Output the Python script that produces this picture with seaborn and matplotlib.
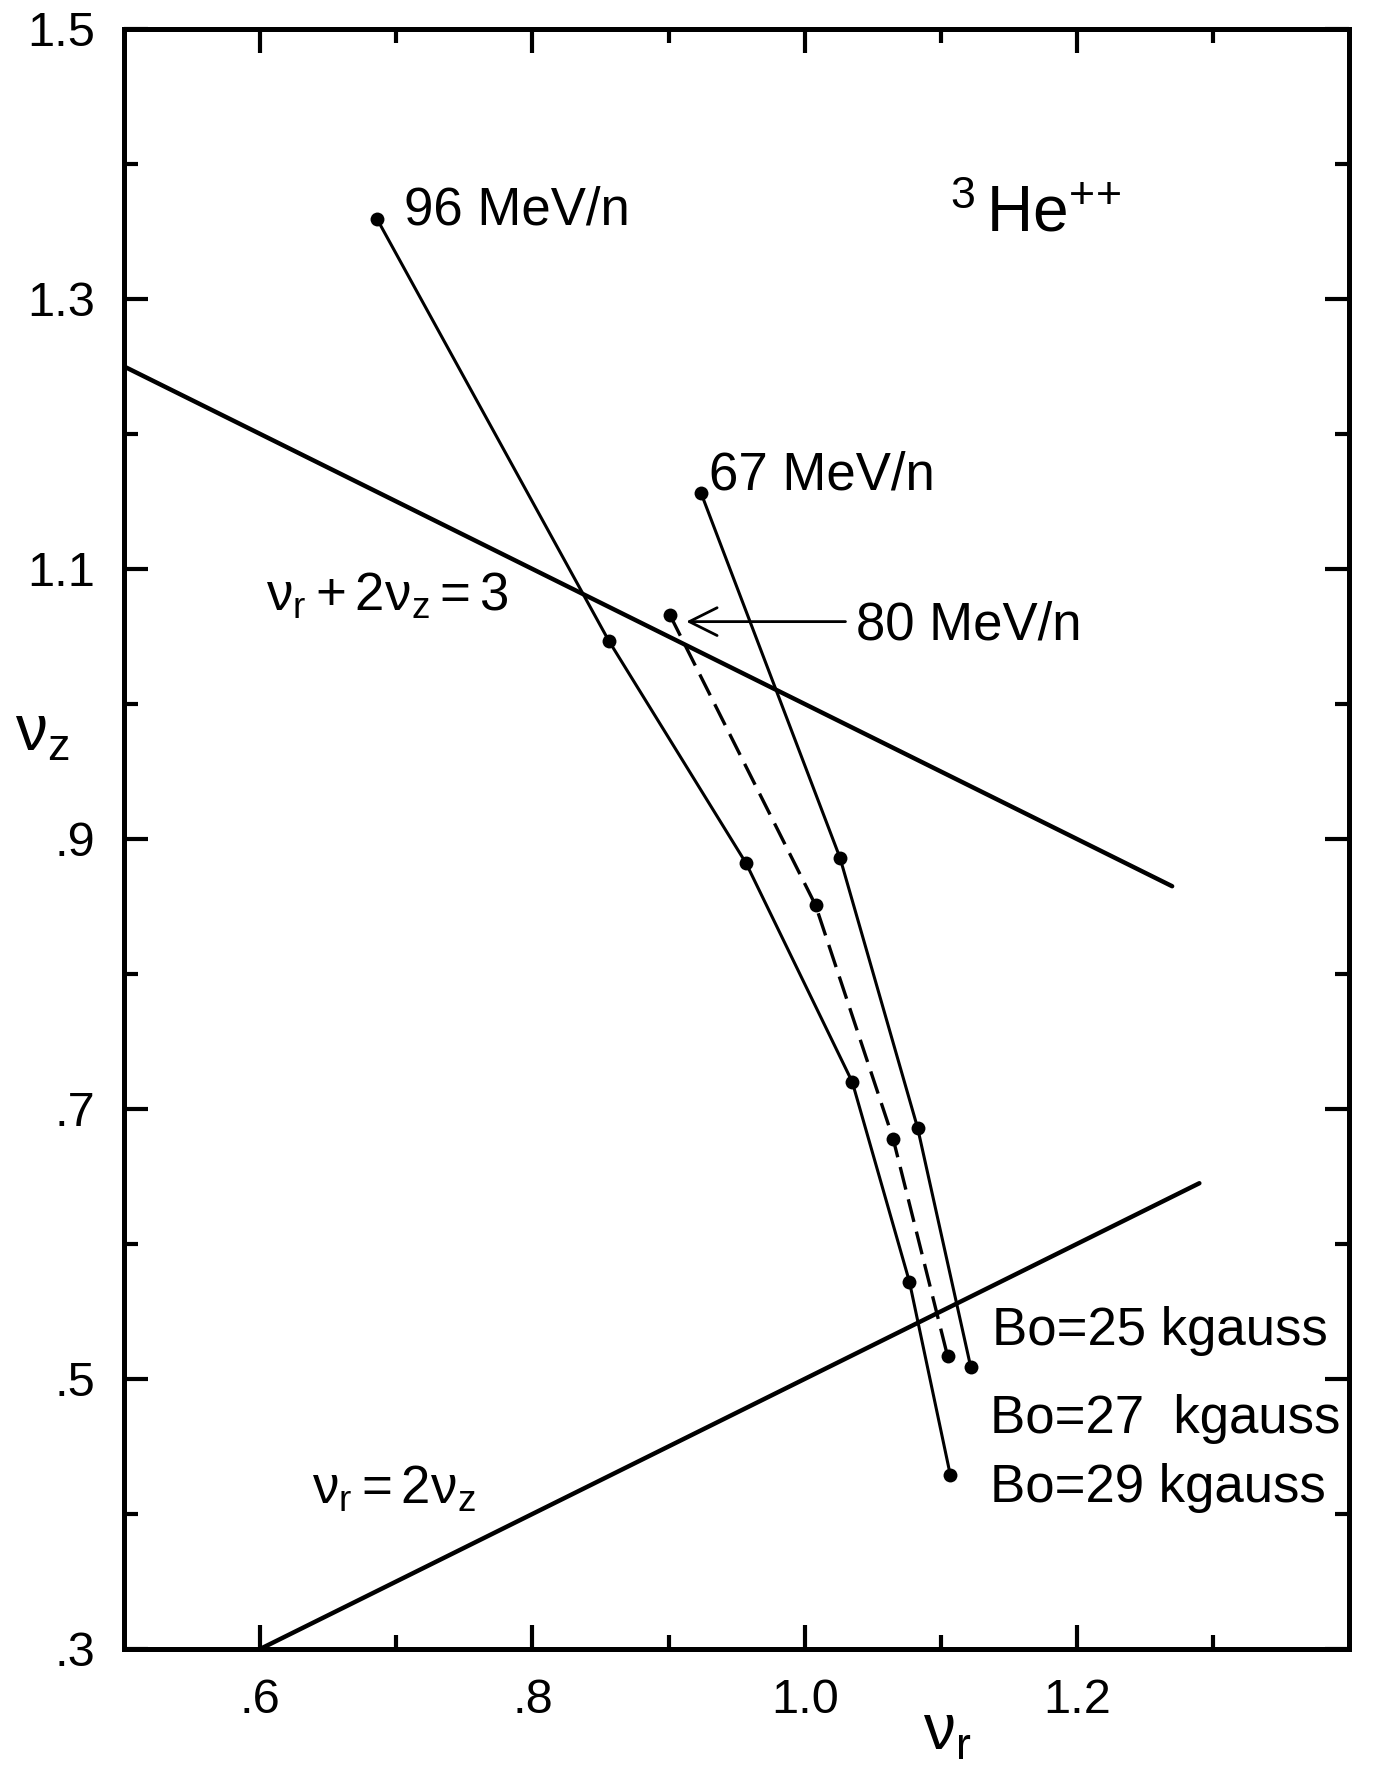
import matplotlib
matplotlib.use("Agg")
import matplotlib.pyplot as plt
from matplotlib.ticker import FixedLocator
import pandas as pd
import seaborn as sns

# --- working-point traces (nu_r, nu_z) for each energy ---
nu_r_96 = [0.686, 0.856, 0.957, 1.035, 1.077, 1.107]
nu_z_96 = [1.359, 1.047, 0.882, 0.720, 0.572, 0.429]

nu_r_80 = [0.901, 1.008, 1.065, 1.105]
nu_z_80 = [1.066, 0.851, 0.678, 0.517]

nu_r_67 = [0.924, 1.026, 1.083, 1.122]
nu_z_67 = [1.156, 0.886, 0.686, 0.509]

# --- resonance lines ---
res_sum_nr = [0.50, 1.27]     # nu_r + 2 nu_z = 3
res_sum_nz = [1.25, 0.865]
res_half_nr = [0.60, 1.29]    # nu_r = 2 nu_z
res_half_nz = [0.30, 0.645]

# --- axis ticks ---
x_major = [0.6, 0.8, 1.0, 1.2]
x_major_labels = [".6", ".8", "1.0", "1.2"]
x_minor = [0.7, 0.9, 1.1, 1.3]
y_major = [0.3, 0.5, 0.7, 0.9, 1.1, 1.3, 1.5]
y_major_labels = [".3", ".5", ".7", ".9", "1.1", "1.3", "1.5"]
y_minor = [0.4, 0.6, 0.8, 1.0, 1.2, 1.4]

sns.set_theme(style="white")
plt.rcParams["font.family"] = ["Liberation Sans", "DejaVu Sans"]
plt.rcParams["mathtext.fontset"] = "custom"
plt.rcParams["mathtext.rm"] = "Liberation Sans"
plt.rcParams["mathtext.it"] = "Liberation Sans:italic"
plt.rcParams["mathtext.default"] = "regular"
for key in ["text.color", "axes.labelcolor", "xtick.color", "ytick.color",
            "axes.edgecolor"]:
    plt.rcParams[key] = "black"

fig = plt.figure(figsize=(13.8, 17.67), dpi=100)
fig.patch.set_facecolor("white")
ax = fig.add_axes([0.0899, 0.0668, 0.8877, 0.9168])
ax.set_facecolor("white")

# resonance lines
sns.lineplot(x=res_sum_nr, y=res_sum_nz, ax=ax, color="black", lw=3.2,
             sort=False, estimator=None)
sns.lineplot(x=res_half_nr, y=res_half_nz, ax=ax, color="black", lw=3.2,
             sort=False, estimator=None)

# working-point traces
dot = dict(marker="o", markersize=10, markeredgecolor="black",
           markerfacecolor="black", markeredgewidth=0)
sns.lineplot(x=nu_r_96, y=nu_z_96, ax=ax, color="black", lw=2.2,
             sort=False, estimator=None, **dot)
sns.lineplot(x=nu_r_67, y=nu_z_67, ax=ax, color="black", lw=2.2,
             sort=False, estimator=None, **dot)
sns.lineplot(x=nu_r_80, y=nu_z_80, ax=ax, color="black", lw=2.4,
             linestyle=(0, (7, 3)), sort=False, estimator=None, **dot)

# annotations
fs = 38
ax.text(0.706, 1.355, "96 MeV/n", fontsize=fs, ha="left", va="baseline")
ax.text(0.930, 1.159, "67 MeV/n", fontsize=fs, ha="left", va="baseline")
ax.text(1.038, 1.048, "80 MeV/n", fontsize=fs, ha="left", va="baseline")
ax.annotate("", xy=(0.913, 1.061), xytext=(1.030, 1.061),
            arrowprops=dict(arrowstyle="->,head_length=0.5,head_width=0.25",
                            lw=2.0, color="black", mutation_scale=40,
                            shrinkA=0, shrinkB=0))
ax.text(1.107, 1.350, r"$^{3}\,$He$^{+\!+}$", fontsize=46, ha="left", va="baseline")
ax.text(0.604, 1.069, r"$\nu_r+2\nu_z=3$", fontsize=fs, ha="left", va="baseline")
ax.text(0.638, 0.408, r"$\nu_r=2\nu_z$", fontsize=fs, ha="left", va="baseline")
ax.text(1.138, 0.525, "Bo=25 kgauss", fontsize=fs, ha="left", va="baseline")
ax.text(1.136, 0.460, "Bo=27  kgauss", fontsize=fs, ha="left", va="baseline")
ax.text(1.136, 0.409, "Bo=29 kgauss", fontsize=fs, ha="left", va="baseline")

# axes
ax.set_xlim(0.5, 1.4)
ax.set_ylim(0.3, 1.5)
ax.xaxis.set_major_locator(FixedLocator(x_major))
ax.xaxis.set_minor_locator(FixedLocator(x_minor))
ax.set_xticklabels(x_major_labels)
ax.yaxis.set_major_locator(FixedLocator(y_major))
ax.yaxis.set_minor_locator(FixedLocator(y_minor))
ax.set_yticklabels(y_major_labels)
ax.tick_params(which="both", direction="in", top=True, right=True,
               bottom=True, left=True, width=3, color="black")
ax.tick_params(which="major", length=17, pad=21, labelsize=35,
               labelcolor="black")
ax.tick_params(which="minor", length=10)
for s in ax.spines.values():
    s.set_visible(True)
    s.set_linewidth(3.6)
    s.set_color("black")

ax.set_xlabel(r"$\nu_r$", fontsize=46, ha="center", va="center")
ax.xaxis.set_label_coords(0.672, -0.052)
ax.set_ylabel(r"$\nu_z$", fontsize=46, rotation=0, ha="center", va="center")
ax.yaxis.set_label_coords(-0.067, 0.565)
ax.grid(False)

fig.savefig("out.png", dpi=100, facecolor="white")
